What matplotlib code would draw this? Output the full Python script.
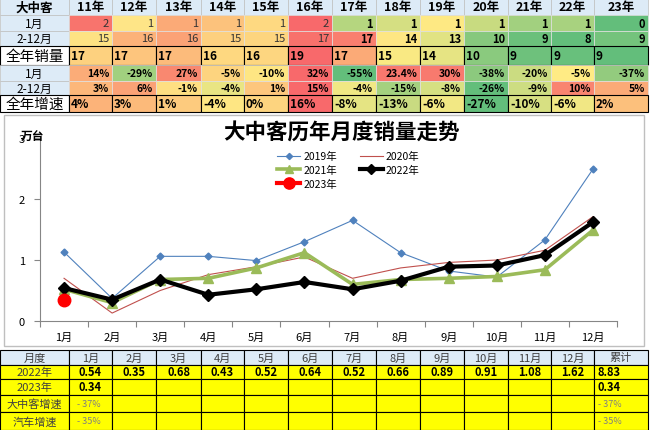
import matplotlib
matplotlib.use("Agg")
import matplotlib.pyplot as plt
from matplotlib.patches import Rectangle

plt.rcParams['font.family'] = ['Noto Sans CJK SC', 'DejaVu Sans']

# ---------------- data ----------------
years = ['11年', '12年', '13年', '14年', '15年', '16年', '17年', '18年', '19年', '20年', '21年', '22年', '23年']
jan_sales = [2, 1, 1, 1, 1, 2, 1, 1, 1, 1, 1, 1, 0]
rest_sales = [15, 16, 16, 15, 15, 17, 17, 14, 13, 10, 9, 8, 9]
total_sales = [17, 17, 17, 16, 16, 19, 17, 15, 14, 10, 9, 9, 9]
jan_growth = [14, -29, 27, -5, -10, 32, -55, 23.4, 30, -38, -20, -5, -37]
rest_growth = [3, 6, -1, -4, 1, 15, -4, -15, -8, -26, -9, 10, 5]
total_growth = [4, 3, 1, -4, 0, 16, -8, -13, -6, -27, -10, -6, 2]

months = ['1月', '2月', '3月', '4月', '5月', '6月', '7月', '8月', '9月', '10月', '11月', '12月']
s2019 = [1.13, 0.37, 1.06, 1.06, 0.99, 1.30, 1.65, 1.12, 0.82, 0.72, 1.33, 2.49]
s2020 = [0.70, 0.13, 0.50, 0.76, 0.89, 1.05, 0.70, 0.87, 0.96, 1.00, 1.16, 1.71]
s2021 = [0.52, 0.30, 0.68, 0.70, 0.87, 1.12, 0.60, 0.68, 0.70, 0.73, 0.84, 1.49]
s2022 = [0.54, 0.35, 0.68, 0.43, 0.52, 0.64, 0.52, 0.66, 0.89, 0.91, 1.08, 1.62]
s2023 = [0.34]
total_2022 = 8.83
total_2023 = 0.34
bus_growth = ['- 37%']
car_growth = ['- 35%']
bus_growth_total = '- 37%'
car_growth_total = '- 35%'

# ---------------- cell colours (style) ----------------
row_colors = [
    ['#F8746D', '#FEE587', '#FBAA77', '#FCC27C', '#FED981', '#F8696B', '#B5D67F', '#D5DF82', '#FEE983', '#C8DB80', '#A2D07F', '#A8D27F', '#63BE7B'],
    ['#FEE283', '#FCB279', '#FBA276', '#FDD07F', '#FDD57F', '#F8716C', '#F97E6F', '#FEE683', '#E1E383', '#86C87D', '#6BC07B', '#63BE7B', '#74C37C'],
    ['#FDD17F', '#FDC57D', '#FCBB7B', '#FED880', '#FDD680', '#F8696B', '#FBAA77', '#F9E983', '#E6E483', '#8ACA7E', '#6EC17C', '#68C07C', '#63BE7B'],
    ['#FBAC78', '#A1D07F', '#F98870', '#FDD47F', '#FEE683', '#F8696B', '#63BE7B', '#F8786E', '#F87A6E', '#8CC97E', '#CBDC81', '#FFEB84', '#93CB7E'],
    ['#FCB77A', '#FBA276', '#FEDF82', '#E9E583', '#FDC67D', '#F8696B', '#F0E884', '#A4D17F', '#D6E082', '#63BE7B', '#CDDD82', '#F98470', '#FBAA77'],
    ['#FCB379', '#FCBA7A', '#FDCB7E', '#FEE683', '#FDD47F', '#F8696B', '#E5E483', '#C9DB81', '#F2E884', '#63BE7B', '#D7E082', '#F1E784', '#FCC07C'],
]
LIGHT_BLUE = '#DDEBF7'

W, H = 650, 431
fig = plt.figure(figsize=(6.5, 4.31), dpi=100)
bg = fig.add_axes([0, 0, 1, 1])
bg.set_xlim(0, W)
bg.set_ylim(H, 0)
bg.axis('off')

col_x = [0, 69, 112, 156, 201, 244, 288, 332, 376, 420, 464, 508, 551, 594, 648]

# ---------------- top table ----------------
top_rows = [0, 16, 32, 47, 66, 82, 96, 113]
row_labels = ['大中客', '1月', '2-12月', '全年销量', '1月', '2-12月', '全年增速']

def cell(x0, x1, y0, y1, fc, ec='#BFBFBF', lw=0.5, z=1):
    bg.add_patch(Rectangle((x0, y0), x1 - x0, y1 - y0, facecolor=fc, edgecolor=ec, linewidth=lw, zorder=z))

for r in range(7):
    y0, y1 = top_rows[r], top_rows[r + 1]
    ym = (y0 + y1) / 2
    big = r in (3, 6)
    fc = 'white' if big else LIGHT_BLUE
    cell(col_x[0], col_x[1], y0, y1, fc, ec='#000000' if big else '#BFBFBF', lw=0.8 if big else 0.5)
    bg.text((col_x[0] + col_x[1]) / 2, ym, row_labels[r], ha='center', va='center',
            fontsize=10.5 if big else (9 if r == 0 else 8.5), fontweight='bold' if r == 0 else 'normal', zorder=5)

for c, yr in enumerate(years):
    x0, x1 = col_x[c + 1], col_x[c + 2]
    cell(x0, x1, top_rows[0], top_rows[1], LIGHT_BLUE)
    bg.text((x0 + x1) / 2, (top_rows[0] + top_rows[1]) / 2, yr, ha='center', va='center',
            fontsize=9, fontweight='bold', zorder=5)

def fmt_pct(v):
    return f"{v:g}%"

data_rows = [
    [str(v) for v in jan_sales],
    [str(v) for v in rest_sales],
    [str(v) for v in total_sales],
    [fmt_pct(v) for v in jan_growth],
    [fmt_pct(v) for v in rest_growth],
    [fmt_pct(v) for v in total_growth],
]
for r in range(6):
    y0, y1 = top_rows[r + 1], top_rows[r + 2]
    ym = (y0 + y1) / 2
    for c in range(13):
        x0, x1 = col_x[c + 1], col_x[c + 2]
        big = r in (2, 5)
        cell(x0, x1, y0, y1, row_colors[r][c], ec='#000000' if big else '#E0E0E0', lw=0.8 if big else 0.5)
        txt = data_rows[r][c]
        if big:
            bg.text(x0 + 2, ym, txt, ha='left', va='center', fontsize=8.5, fontweight='bold', zorder=5)
        elif r < 2:
            bold = c >= 6
            bg.text(x1 - 3, ym, txt, ha='right', va='center', fontsize=8,
                    fontweight='bold' if bold else 'normal', color='#000000' if bold else '#333333', zorder=5)
        else:
            bg.text(x1 - 3, ym, txt, ha='right', va='center', fontsize=7.5, fontweight='bold', zorder=5)

# ---------------- chart frame ----------------
bg.add_patch(Rectangle((4, 116), 640, 231, facecolor='white', edgecolor='#BFBFBF', linewidth=1, zorder=0))

# ---------------- bottom table ----------------
bot_rows = [351, 366, 380, 396, 413, 431]
bot_labels = ['月度', '2022年', '2023年', '大中客增速', '汽车增速']
YEL = '#FFFF00'
header = ['月度'] + months + ['累计']
for c in range(14):
    x0, x1 = col_x[c], col_x[c + 1]
    cell(x0, x1, bot_rows[0], bot_rows[1], LIGHT_BLUE, ec='#000000', lw=0.8)
    bg.text((x0 + x1) / 2, (bot_rows[0] + bot_rows[1]) / 2, header[c], ha='center', va='center',
            fontsize=8, color='#404040', zorder=5)
for r in range(1, 5):
    y0, y1 = bot_rows[r], bot_rows[r + 1]
    ym = (y0 + y1) / 2
    for c in range(14):
        x0, x1 = col_x[c], col_x[c + 1]
        cell(x0, x1, y0, y1, YEL, ec='#000000', lw=0.8)
    bg.text((col_x[0] + col_x[1]) / 2, ym, bot_labels[r], ha='center', va='center', fontsize=8, color='#404040', zorder=5)

for i, v in enumerate(s2022):
    bg.text((col_x[i + 1] + col_x[i + 2]) / 2, (bot_rows[1] + bot_rows[2]) / 2, f"{v:.2f}",
            ha='center', va='center', fontsize=8, fontweight='bold', zorder=5)
for i, v in enumerate(s2023):
    bg.text((col_x[i + 1] + col_x[i + 2]) / 2, (bot_rows[2] + bot_rows[3]) / 2, f"{v:.2f}",
            ha='center', va='center', fontsize=8, fontweight='bold', zorder=5)
for i, v in enumerate(bus_growth):
    bg.text(col_x[i + 1] + 8, (bot_rows[3] + bot_rows[4]) / 2, v, ha='left', va='center', fontsize=6.5, color='#7F7F7F', zorder=5)
for i, v in enumerate(car_growth):
    bg.text(col_x[i + 1] + 8, (bot_rows[4] + bot_rows[5]) / 2, v, ha='left', va='center', fontsize=6.5, color='#7F7F7F', zorder=5)
xc = col_x[13] + 4
bg.text(xc, (bot_rows[1] + bot_rows[2]) / 2, f"{total_2022:.2f}", ha='left', va='center', fontsize=8, fontweight='bold', zorder=5)
bg.text(xc, (bot_rows[2] + bot_rows[3]) / 2, f"{total_2023:.2f}", ha='left', va='center', fontsize=8, fontweight='bold', zorder=5)
bg.text(xc, (bot_rows[3] + bot_rows[4]) / 2, bus_growth_total, ha='left', va='center', fontsize=6.5, color='#7F7F7F', zorder=5)
bg.text(xc, (bot_rows[4] + bot_rows[5]) / 2, car_growth_total, ha='left', va='center', fontsize=6.5, color='#7F7F7F', zorder=5)

# ---------------- line chart ----------------
L, R, B, T = 40, 617, 322, 139
ax = fig.add_axes([L / W, (H - B) / H, (R - L) / W, (B - T) / H])
ax.patch.set_alpha(0)
x = list(range(len(months)))
l19, = ax.plot(x, s2019, color='#4F81BD', lw=0.8, marker='D', ms=3.5, label='2019年')
l20, = ax.plot(x, s2020, color='#C0504D', lw=0.8, label='2020年')
l21, = ax.plot(x, s2021, color='#9BBB59', lw=2.6, marker='^', ms=7, label='2021年')
l22, = ax.plot(x, s2022, color='#000000', lw=3, marker='D', ms=6, label='2022年')
l23, = ax.plot(x[:len(s2023)], s2023, color='#FF0000', lw=3, marker='o', ms=9, label='2023年')

ax.set_xlim(-0.5, 11.5)
ax.set_ylim(0, 3)
ax.set_yticks([0, 1, 2, 3])
ax.set_yticklabels(['0', '1', '2', '3'], fontsize=8)
ax.set_xticks([i - 0.5 for i in range(13)])
ax.set_xticklabels([])
ax.set_xticks(x, minor=True)
ax.set_xticklabels(months, minor=True, fontsize=8)
ax.tick_params(axis='x', which='major', length=4, color='#868686', direction='out')
ax.tick_params(axis='x', which='minor', length=0, pad=8)
ax.tick_params(axis='y', length=4, color='#868686', pad=7)
for s in ('top', 'right'):
    ax.spines[s].set_visible(False)
for s in ('left', 'bottom'):
    ax.spines[s].set_color('#868686')
    ax.spines[s].set_linewidth(0.8)

fig.text(341 / W, (H - 133) / H, '大中客历年月度销量走势', ha='center', va='center', fontsize=15.5, fontweight='bold')
fig.text(33 / W, (H - 137) / H, '万台', ha='center', va='center', fontsize=8.5, fontweight='bold')

leg = ax.legend([l19, l21, l23, l20, l22], ['2019年', '2021年', '2023年', '2020年', '2022年'],
                ncol=2, loc='upper left', bbox_to_anchor=(272 / W, (H - 147) / H),
                bbox_transform=fig.transFigure, frameon=False, fontsize=7.5,
                handlelength=2.2, handletextpad=0.3, labelspacing=0.35, columnspacing=2.2,
                borderpad=0, markerscale=0.9)

fig.savefig('out.png', dpi=100)
